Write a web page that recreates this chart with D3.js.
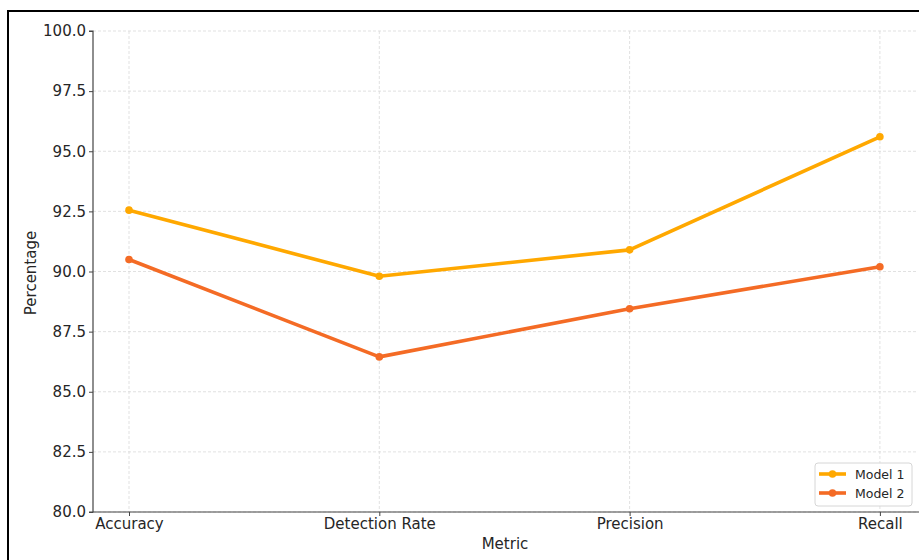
<!DOCTYPE html>
<html><head><meta charset="utf-8">
<script src="https://cdn.jsdelivr.net/npm/d3@7"></script>
<style>body{margin:0;background:#fff;} svg{display:block;}</style>
</head><body>
<svg id="c" width="919" height="560"></svg>
<script>
const categories = ["Accuracy", "Detection Rate", "Precision", "Recall"];
const model1 = [92.55, 89.8, 90.9, 95.6];
const model2 = [90.5, 86.45, 88.45, 90.2];
const seriesNames = ["Model 1", "Model 2"];
const seriesColors = ["#FFA800", "#F46B25"];
const yTicks = [80.0, 82.5, 85.0, 87.5, 90.0, 92.5, 95.0, 97.5, 100.0];

(function () {
const svg = d3.select("#c");
const font = "DejaVu Sans, sans-serif";
const fs = 15;
// figure border
svg.append("rect").attr("x", 8).attr("y", 11).attr("width", 1000).attr("height", 600)
  .attr("fill", "none").attr("stroke", "#000").attr("stroke-width", 2);

const mLeft = 93, mTop = 31, mBottom = 512, step = 250.3;
const x = d3.scalePoint().domain(categories).range([129, 129 + 3 * step]);
const y = d3.scaleLinear().domain([80, 100]).range([mBottom, mTop]);
const mRight = 880 + 36;

const g = svg.append("g");
// grid
g.selectAll(".gy").data(yTicks).join("line")
  .attr("x1", mLeft).attr("x2", mRight).attr("y1", d => y(d)).attr("y2", d => y(d))
  .attr("stroke", "#d9d9d9").attr("stroke-width", 0.8).attr("stroke-dasharray", "3,2");
g.selectAll(".gx").data(categories).join("line")
  .attr("x1", d => x(d)).attr("x2", d => x(d)).attr("y1", mTop).attr("y2", mBottom)
  .attr("stroke", "#d9d9d9").attr("stroke-width", 0.8).attr("stroke-dasharray", "3,2");

// axes
const yAxis = d3.axisLeft(y).tickValues(yTicks).tickFormat(d3.format(".1f")).tickSize(4).tickPadding(3);
const ya = svg.append("g").attr("transform", `translate(${mLeft},0)`).call(yAxis);
ya.select(".domain").attr("stroke", "#444").attr("stroke-width", 1.2).attr("d", `M-4,${mTop}H0V${mBottom}H-4`);
ya.selectAll(".tick line").attr("stroke", "#444");
ya.selectAll("text").attr("font-family", font).attr("font-size", fs).attr("fill", "#262626");

const xAxis = d3.axisBottom(x).tickSize(4).tickPadding(2);
const xa = svg.append("g").attr("transform", `translate(0,${mBottom})`).call(xAxis);
xa.select(".domain").attr("stroke", "#444").attr("stroke-width", 1.2).attr("d", `M${mLeft},0H${mRight + 20}`);
xa.selectAll(".tick line").attr("stroke", "#444");
xa.selectAll("text").attr("font-family", font).attr("font-size", fs).attr("fill", "#262626");

// axis labels
svg.append("text").attr("x", 505).attr("y", 549).attr("text-anchor", "middle")
  .attr("font-family", font).attr("font-size", fs).attr("fill", "#262626").text("Metric");
svg.append("text").attr("transform", "translate(36,273) rotate(-90)").attr("text-anchor", "middle")
  .attr("font-family", font).attr("font-size", fs).attr("fill", "#262626").text("Percentage");

// lines
const line = d3.line().x((d, i) => x(categories[i])).y(d => y(d));
[model1, model2].forEach((s, k) => {
  svg.append("path").datum(s).attr("d", line).attr("fill", "none")
    .attr("stroke", seriesColors[k]).attr("stroke-width", 3.6).attr("stroke-linejoin", "round");
  svg.selectAll(".p" + k).data(s).join("circle")
    .attr("cx", (d, i) => x(categories[i])).attr("cy", d => y(d)).attr("r", 3.8)
    .attr("fill", seriesColors[k]);
});

// legend
const lg = svg.append("g").attr("transform", "translate(815,463)");
lg.append("rect").attr("width", 97).attr("height", 43).attr("rx", 3)
  .attr("fill", "#fff").attr("fill-opacity", 0.85).attr("stroke", "#d6d6d6");
seriesNames.forEach((n, k) => {
  const yy = 11 + k * 19;
  lg.append("line").attr("x1", 4).attr("x2", 31).attr("y1", yy).attr("y2", yy)
    .attr("stroke", seriesColors[k]).attr("stroke-width", 3.6);
  lg.append("circle").attr("cx", 17.5).attr("cy", yy).attr("r", 3.8).attr("fill", seriesColors[k]);
  lg.append("text").attr("x", 40).attr("y", yy + 4.5).attr("font-family", font).attr("font-size", 12.5)
    .attr("fill", "#262626").text(n);
});
})();
</script>
</body></html>
